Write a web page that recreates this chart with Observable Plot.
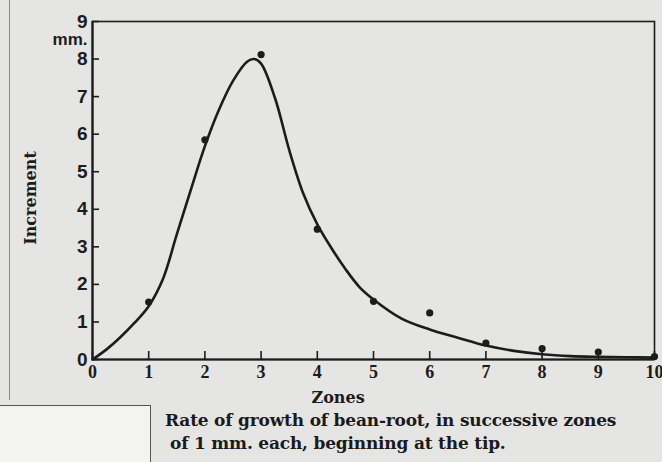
<!DOCTYPE html>
<html>
<head>
<meta charset="utf-8">
<script src="https://cdn.jsdelivr.net/npm/d3@7"></script>
<script src="https://cdn.jsdelivr.net/npm/@observablehq/plot@0.6"></script>
<style>
  html, body { margin: 0; padding: 0; }
  body { width: 662px; height: 462px; background: #e5e5e3; position: relative; overflow: hidden; font-family: "DejaVu Serif", serif; }
  #chart { position: absolute; left: 0; top: 0; }
  #caption { position: absolute; left: 165px; top: 409px; font-family: "DejaVu Serif", serif; font-size: 17px; line-height: 23px; color: #1a1a1a; font-weight: bold; letter-spacing: -0.2px; }
  #caption .l2 { padding-left: 5px; }
  #cut { position: absolute; left: -2px; top: 405px; width: 151px; height: 70px; background: #f3f3f1; border: 1.5px solid #555; }
  #edge { position: absolute; left: 9px; top: 0; width: 0; height: 400px; border-left: 1.5px solid #888; }
</style>
</head>
<body>
<div id="edge"></div>
<div id="cut"></div>
<div id="chart"></div>
<div id="caption">Rate of growth of bean-root, in successive zones<br><span class="l2">of 1 mm. each, beginning at the tip.</span></div>
<script>
// Observed increments (dots) per zone
const zones = [1, 2, 3, 4, 5, 6, 7, 8, 9, 10];
const increments = [1.53, 5.85, 8.12, 3.47, 1.55, 1.24, 0.44, 0.29, 0.2, 0.08];

// Smoothed curve drawn through the data
const curveX = [0, 0.25, 0.5, 0.75, 1.0, 1.25, 1.5, 1.75, 2.0, 2.25, 2.5, 2.75, 2.88, 3.0, 3.25, 3.5, 3.75, 4.0, 4.25, 4.5, 4.75, 5.0, 5.5, 6.0, 6.5, 7.0, 7.5, 8.0, 8.5, 9.0, 9.5, 10.0];
const curveY = [0, 0.27, 0.6, 0.98, 1.42, 2.13, 3.33, 4.52, 5.68, 6.65, 7.42, 7.93, 8.0, 7.88, 6.95, 5.58, 4.42, 3.6, 2.97, 2.41, 1.93, 1.6, 1.09, 0.8, 0.58, 0.37, 0.23, 0.14, 0.09, 0.07, 0.06, 0.05];

// Tick labels
const xTicks = [0, 1, 2, 3, 4, 5, 6, 7, 8, 9, 10];
const yTicks = [0, 1, 2, 3, 4, 5, 6, 7, 8, 9];

const points = zones.map((z, i) => ({x: z, y: increments[i]}));
const curve = curveX.map((x, i) => ({x, y: curveY[i]}));

const ink = "#1c1c1c";

const chart = Plot.plot({
  width: 662,
  height: 400,
  marginLeft: 92,
  marginRight: 8,
  marginTop: 21,
  marginBottom: 41,
  style: {background: "transparent", color: ink, overflow: "visible"},
  x: {domain: [0, 10]},
  y: {domain: [0, 9]},
  marks: [
    Plot.frame({stroke: ink, strokeWidth: 1.6}),
    Plot.ruleX([0], {stroke: ink, strokeWidth: 2.2}),
    Plot.ruleY([0], {stroke: ink, strokeWidth: 2.2}),
    // inward ticks
    Plot.axisY({ticks: yTicks, tickSize: 7, dx: 7, text: null, label: null, strokeWidth: 1.6}),
    Plot.axisX({ticks: xTicks, tickSize: 8, dy: -8, text: null, label: null, strokeWidth: 1.6}),
    // tick labels
    Plot.axisY({ticks: yTicks, tickSize: 0, tickPadding: 5, label: null,
      fontFamily: "Liberation Sans, sans-serif", fontWeight: "bold", fontSize: 19}),
    Plot.axisX({ticks: xTicks, tickSize: 0, tickPadding: 6, label: null,
      fontFamily: "Liberation Serif, serif", fontWeight: "bold", fontSize: 18}),
    Plot.text(["mm."], {x: 0, y: 8.52, dx: -5, textAnchor: "end",
      fontFamily: "Liberation Sans, sans-serif", fontWeight: "bold", fontSize: 17}),
    Plot.text(["Zones"], {x: 4.37, y: 0, dy: 38, fontFamily: "DejaVu Serif, serif", fontWeight: "bold", fontSize: 16}),
    Plot.text(["Increment"], {x: 0, y: 4.3, dx: -62, rotate: -90,
      fontFamily: "DejaVu Serif, serif", fontWeight: "bold", fontSize: 16}),
    Plot.line(curve, {x: "x", y: "y", curve: "catmull-rom", stroke: ink, strokeWidth: 2.6}),
    Plot.dot(points, {x: "x", y: "y", r: 3.6, fill: ink})
  ]
});
document.getElementById("chart").appendChild(chart);
</script>
</body>
</html>
